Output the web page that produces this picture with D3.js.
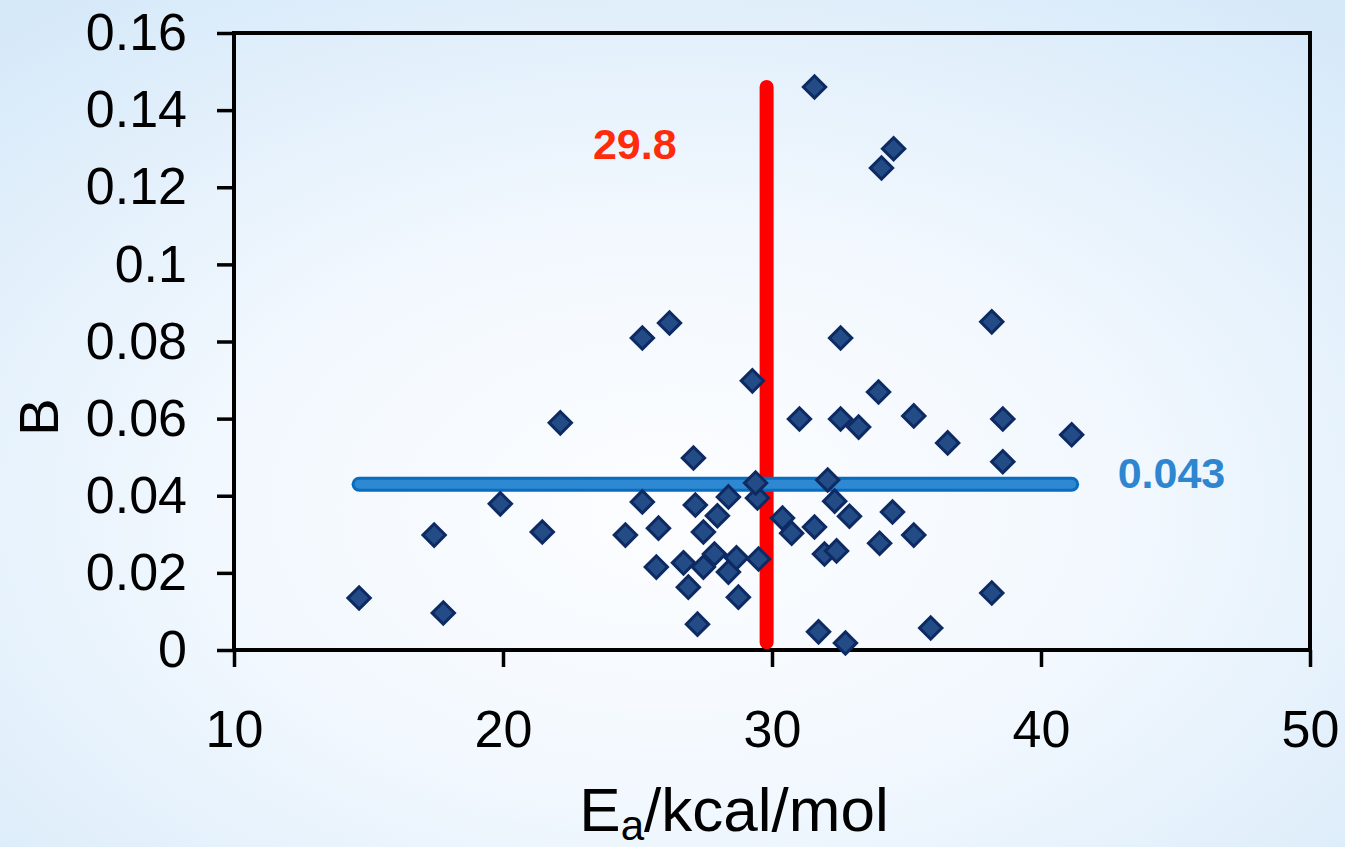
<!DOCTYPE html>
<html lang="en">
<head>
    <meta charset="UTF-8">
    <title>B vs Ea</title>
    <script src="https://cdn.jsdelivr.net/npm/d3@7"></script>
    <style>
        html, body { margin: 0; padding: 0; overflow: hidden; }
        text { font-family: "Liberation Sans", Arial, sans-serif; }
    </style>
</head>
<body>
<div id="chart"></div>
<script>
    // Ea (kcal/mol) and B values
    var ea = [14.65, 17.44, 17.78, 19.90, 21.46, 22.13, 24.55, 25.18, 25.18, 25.78,
              25.70, 26.19, 26.71, 26.89, 27.08, 27.15, 27.23, 27.45, 27.45, 27.86,
              27.97, 28.38, 28.38, 28.68, 28.75, 29.27, 29.46, 29.50, 29.39, 30.39,
              30.73, 31.02, 31.58, 31.58, 31.73, 31.95, 32.07, 32.33, 32.40, 32.55,
              32.55, 32.73, 32.88, 33.22, 33.96, 34.00, 34.07, 34.48, 34.52, 35.27,
              35.27, 35.90, 36.53, 38.17, 38.17, 38.58, 38.58, 41.14];
    var bVal = [0.0135, 0.0298, 0.0096, 0.0379, 0.0306, 0.0589, 0.0298, 0.0384, 0.0809, 0.0316,
                0.0215, 0.0848, 0.0226, 0.0163, 0.0498, 0.0376, 0.0067, 0.0306, 0.0215, 0.0249,
                0.0348, 0.0397, 0.0202, 0.0239, 0.0137, 0.0698, 0.0394, 0.0236, 0.0433, 0.0342,
                0.0303, 0.0599, 0.0319, 0.146, 0.0047, 0.0249, 0.0441, 0.0386, 0.0257, 0.0809,
                0.0599, 0.0018, 0.0347, 0.0578, 0.0669, 0.0277, 0.125, 0.0358, 0.130, 0.0607,
                0.0298, 0.0057, 0.0537, 0.0851, 0.0148, 0.0599, 0.0488, 0.0558];

    var xTicks = [10, 20, 30, 40, 50];
    var yTicks = [0, 0.02, 0.04, 0.06, 0.08, 0.1, 0.12, 0.14, 0.16];

    var meanEa = 29.8;
    var meanB = 0.043;
    var redLineB = [0.002, 0.146];   // vertical marker extent
    var blueLineEa = [d3.min(ea), d3.max(ea)];

    var points = ea.map(function(d, i) { return {x: d, y: bVal[i]}; });

    var w = 1345, h = 847;
    var mLeft = 234, mRight = 1310, mTop = 33, mBottom = 650;

    var svg = d3.select("#chart").append("svg")
        .attr("width", w)
        .attr("height", h);

    // light blue background
    var defs = svg.append("defs");
    var grad = defs.append("radialGradient")
        .attr("id", "bg")
        .attr("cx", "0.5").attr("cy", "0.6").attr("r", "0.75");
    grad.append("stop").attr("offset", "0%").attr("stop-color", "#fcfdff");
    grad.append("stop").attr("offset", "45%").attr("stop-color", "#f2f8fe");
    grad.append("stop").attr("offset", "100%").attr("stop-color", "#d6e9f9");

    svg.append("rect")
        .attr("width", w)
        .attr("height", h)
        .attr("fill", "url(#bg)");

    var xScale = d3.scaleLinear().domain([10, 50]).range([mLeft, mRight]);
    var yScale = d3.scaleLinear().domain([0, 0.16]).range([mBottom, mTop]);

    // axes
    var xAxis = svg.append("g")
        .attr("transform", "translate(0," + mBottom + ")")
        .call(d3.axisBottom(xScale).tickValues(xTicks).tickSize(17).tickPadding(43).tickFormat(d3.format("d")));
    var yAxis = svg.append("g")
        .attr("transform", "translate(" + mLeft + ",0)")
        .call(d3.axisLeft(yScale).tickValues(yTicks).tickSize(17).tickPadding(30)
            .tickFormat(function(d) { return d === 0 ? "0" : String(+d.toFixed(2)); }));

    [xAxis, yAxis].forEach(function(a) {
        a.select(".domain").remove();
        a.selectAll(".tick line").attr("stroke", "#000").attr("stroke-width", 3.5);
        a.selectAll(".tick text")
            .attr("fill", "#000")
            .attr("font-size", "52px")
            .attr("font-family", "Liberation Sans, Arial, sans-serif");
    });

    // plot frame
    svg.append("rect")
        .attr("x", mLeft)
        .attr("y", mTop)
        .attr("width", mRight - mLeft)
        .attr("height", mBottom - mTop)
        .attr("fill", "none")
        .attr("stroke", "#000")
        .attr("stroke-width", 4);

    // mean lines
    svg.append("line")
        .attr("x1", xScale(meanEa)).attr("x2", xScale(meanEa))
        .attr("y1", yScale(redLineB[0])).attr("y2", yScale(redLineB[1]))
        .attr("stroke", "#ff0000")
        .attr("stroke-width", 14)
        .attr("stroke-linecap", "round");

    svg.append("line")
        .attr("x1", xScale(blueLineEa[0])).attr("x2", xScale(blueLineEa[1]))
        .attr("y1", yScale(meanB)).attr("y2", yScale(meanB))
        .attr("stroke", "#0a6cbf")
        .attr("stroke-width", 15)
        .attr("stroke-linecap", "round");
    svg.append("line")
        .attr("x1", xScale(blueLineEa[0])).attr("x2", xScale(blueLineEa[1]))
        .attr("y1", yScale(meanB)).attr("y2", yScale(meanB))
        .attr("stroke", "#2e88d2")
        .attr("stroke-width", 9)
        .attr("stroke-linecap", "round");

    // points
    var diamond = d3.symbol().type(d3.symbolSquare).size(250);
    svg.selectAll(".pt")
        .data(points)
        .enter()
        .append("path")
        .attr("class", "pt")
        .attr("d", diamond)
        .attr("transform", function(d) {
            return "translate(" + xScale(d.x) + "," + yScale(d.y) + ") rotate(45)";
        })
        .attr("fill", "#234b85")
        .attr("stroke", "#0e2a63")
        .attr("stroke-width", 3);

    // value labels
    svg.append("text")
        .attr("x", xScale(24.9))
        .attr("y", yScale(0.1272))
        .attr("text-anchor", "middle")
        .attr("font-family", "Open Sans, sans-serif")
        .attr("font-weight", "bold")
        .attr("font-size", "43px")
        .attr("fill", "#ff2b0a")
        .text("29.8");

    svg.append("text")
        .attr("x", xScale(42.85))
        .attr("y", yScale(0.0421))
        .attr("font-family", "Open Sans, sans-serif")
        .attr("font-weight", "bold")
        .attr("font-size", "43px")
        .attr("fill", "#2e86d0")
        .text("0.043");

    // axis titles
    var xt = svg.append("text")
        .attr("x", 734)
        .attr("y", 831)
        .attr("text-anchor", "middle")
        .attr("font-size", "62px")
        .attr("fill", "#000");
    xt.append("tspan").text("E");
    xt.append("tspan").attr("font-size", "42px").attr("dy", 9).text("a");
    xt.append("tspan").attr("dy", -9).text("/kcal/mol");

    svg.append("text")
        .attr("transform", "translate(58,417) rotate(-90)")
        .attr("text-anchor", "middle")
        .attr("font-size", "56px")
        .attr("fill", "#000")
        .text("B");
</script>
</body>
</html>
